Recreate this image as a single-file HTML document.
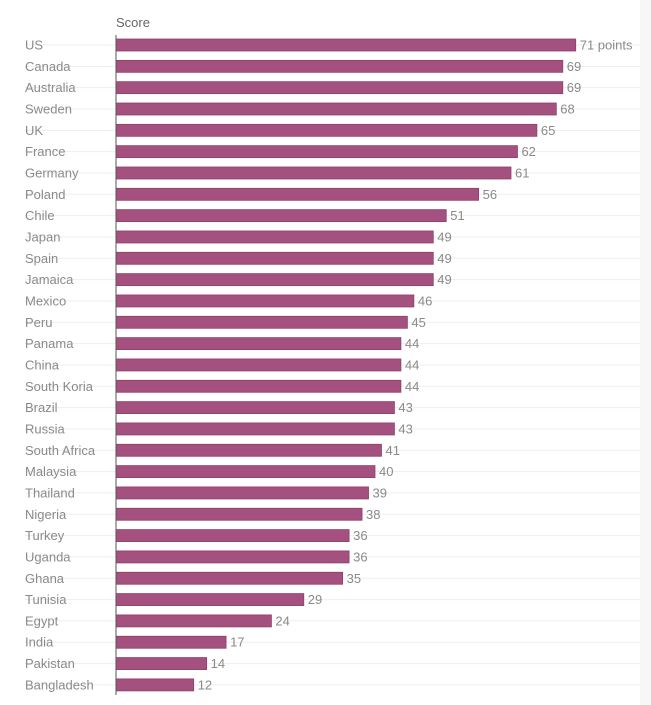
<!DOCTYPE html>
<html><head><meta charset="utf-8"><style>
body{margin:0;background:#fff;}
svg{display:block;font-family:"Liberation Sans",sans-serif;}
</style></head><body>
<svg id="c" width="651" height="705">
<rect x="640" y="0" width="11" height="705" fill="#f7f7f7"/>
<text x="116" y="27" font-size="13" fill="#666">Score</text>
</svg>
<script>
const countries=["US","Canada","Australia","Sweden","UK","France","Germany","Poland","Chile","Japan","Spain","Jamaica","Mexico","Peru","Panama","China","South Koria","Brazil","Russia","South Africa","Malaysia","Thailand","Nigeria","Turkey","Uganda","Ghana","Tunisia","Egypt","India","Pakistan","Bangladesh"];
const scores=[71,69,69,68,65,62,61,56,51,49,49,49,46,45,44,44,44,43,43,41,40,39,38,36,36,35,29,24,17,14,12];
const svg=document.getElementById('c');
const NS='http://www.w3.org/2000/svg';
const x0=116,k=6.475;
const xs=v=>x0+v*k;
const ys=i=>45+i*21.33;
function mk(t,a){const e=document.createElementNS(NS,t);for(const n in a)e.setAttribute(n,a[n]);svg.appendChild(e);return e;}
countries.forEach((c,i)=>{
  const y=ys(i);
  const g=mk('line',{x1:25,x2:640,y1:y,y2:y,stroke:'#eeeeee','stroke-width':1});
  
  
  const l=mk('text',{x:25,y:y+4.5,'font-size':13,fill:'#8a8a8a'});
  l.textContent=c;
  
  
  const r=mk('rect',{x:x0,y:y-6,width:xs(scores[i])-x0,height:12,fill:'#a4517f',stroke:'#8e3f6b','stroke-width':0.8});
  
  
  const v=mk('text',{x:xs(scores[i])+4,y:y+4.5,'font-size':13,fill:'#8a8a8a'});
  v.textContent=scores[i]+(i===0?' points':'');
  
  
});
const ax=mk('line',{x1:x0,x2:x0,y1:35,y2:695,stroke:'#555','stroke-width':1});


</script>
</body></html>
